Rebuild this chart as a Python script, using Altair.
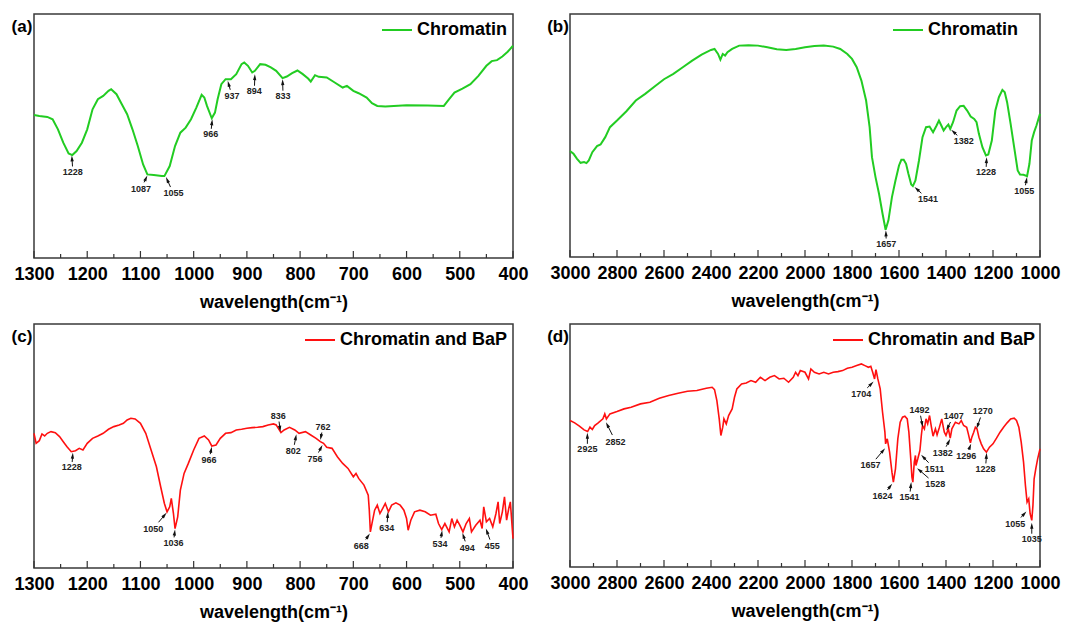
import math
import altair as alt
import pandas as pd

FONT = "Liberation Sans"
YMAX = 73.0

# ---------------- panel (a): Chromatin, 1300-400 ----------------
a_wn = [1300,1290,1275,1265,1255,1245,1235,1228,1220,1210,1200,1190,1180,1170,1160,1155,1145,1135,1125,1115,
        1105,1095,1087,1075,1060,1055,1045,1035,1025,1015,1005,995,985,980,975,966,960,955,948,940,
        930,920,910,905,898,890,885,875,865,855,845,833,825,815,805,795,785,780,772,765,
        750,735,720,712,700,690,675,665,655,640,600,560,530,520,510,495,480,465,450,440,
        430,420,410,400]
a_val = [42.8,42.5,42.2,41.5,38.5,34.5,31.3,30.8,32.0,34.5,38.5,44.5,47.5,48.5,50.0,50.5,49.0,46.0,43.0,38.5,
         33.5,28.0,25.0,24.8,24.5,24.5,27.5,33.5,37.5,39.0,41.5,45.0,48.8,48.0,45.5,41.8,43.5,47.5,52.0,53.5,
         53.5,55.0,58.0,58.5,57.5,55.5,56.0,58.0,57.8,57.0,56.0,53.8,54.3,55.3,56.1,55.0,53.7,52.8,54.7,54.2,
         54.0,52.5,51.0,51.5,50.0,49.3,48.0,46.3,45.5,45.3,45.7,45.6,45.5,47.5,49.5,50.7,52.0,54.5,57.5,58.9,
         59.2,60.3,61.7,63.5]
a_ann = ["1228", "1087", "1055", "966", "937", "894", "833"]
a_tip_x = [1229, 1087, 1052, 965, 936, 885, 833]
a_tip_y = [30.7, 24.7, 24.2, 41.5, 53.0, 55.0, 53.5]
a_lab_x = [1227, 1099, 1038, 968, 928, 886, 832]
a_lab_y = [25.8, 20.7, 19.3, 37.0, 48.5, 50.0, 48.5]

# ---------------- panel (b): Chromatin, 3000-1000 ----------------
b_wn = [3000,2985,2970,2955,2940,2930,2920,2905,2885,2870,2850,2830,2800,2760,2720,2680,2640,2600,2560,2520,
        2480,2440,2400,2385,2370,2360,2350,2340,2330,2310,2280,2240,2200,2160,2120,2080,2040,2000,1960,1920,
        1880,1850,1820,1800,1780,1760,1740,1725,1715,1700,1685,1670,1657,1645,1630,1615,1600,1590,1580,1570,
        1560,1548,1541,1530,1515,1500,1485,1470,1455,1440,1430,1420,1410,1398,1390,1382,1370,1355,1340,1325,
        1310,1295,1280,1270,1260,1245,1230,1220,1205,1190,1175,1160,1150,1140,1125,1110,1095,1085,1070,1055,
        1045,1035,1025,1015,1000]
b_val = [31.8,31.0,29.5,28.3,28.5,28.2,29.0,31.5,33.3,33.8,36.0,39.0,41.0,43.8,47.0,49.0,51.2,53.4,55.0,57.0,
         59.0,60.8,62.2,62.5,61.0,59.3,61.0,60.5,61.5,62.5,63.5,63.6,63.5,63.0,62.4,62.2,62.5,63.0,63.4,63.5,
         63.2,62.5,61.0,59.5,57.0,53.0,47.0,39.0,30.0,24.0,19.0,13.0,8.2,11.0,18.0,23.0,27.5,29.2,29.2,28.0,
         25.0,21.8,21.3,23.0,29.0,36.0,39.0,39.2,37.5,39.5,41.0,39.5,38.0,39.2,39.8,38.5,40.5,44.0,45.3,45.4,
         44.0,42.2,41.5,40.5,37.0,33.0,30.5,30.8,35.0,44.0,48.0,50.2,49.5,46.5,40.0,33.0,26.0,24.8,24.7,24.3,
         28.0,35.0,37.5,39.5,43.0]
b_ann = ["1657", "1541", "1382", "1228", "1055"]
b_tip_x = [1656, 1534, 1378, 1227, 1055]
b_tip_y = [8.0, 21.0, 38.2, 30.0, 24.0]
b_lab_x = [1654, 1477, 1324, 1230, 1067]
b_lab_y = [4.0, 17.4, 34.8, 25.5, 19.8]

# ---------------- panel (c): Chromatin and BaP, 1300-400 ----------------
c_wn = [1300,1296,1290,1285,1280,1275,1268,1260,1252,1245,1238,1230,1222,1215,1208,1200,1190,1180,1170,1160,
        1150,1140,1132,1125,1118,1110,1100,1090,1080,1070,1062,1055,1050,1045,1042,1038,1035,1030,1025,1018,
        1010,1000,990,980,972,966,958,950,940,930,920,910,900,890,880,870,860,850,845,836,
        830,820,810,802,790,780,770,762,756,750,740,730,720,710,700,695,690,680,672,670,
        668,665,660,655,650,645,640,634,628,620,612,605,600,597,592,585,575,565,555,545,
        540,534,528,520,515,510,505,500,494,488,482,478,470,462,458,455,450,444,438,432,
        428,425,420,416,412,408,405,400]
c_val = [40.3,37.3,38.1,40.1,39.5,40.3,40.8,40.5,39.3,37.8,36.3,34.8,35.1,35.8,35.3,37.3,38.8,39.5,40.3,41.5,
         42.3,42.8,43.3,44.3,44.8,44.6,43.3,40.3,35.3,30.3,24.3,19.3,16.8,18.3,20.8,16.3,11.8,15.3,23.3,28.3,
         31.3,35.3,38.8,39.5,38.3,36.5,36.8,38.8,40.3,40.5,41.3,41.5,41.8,42.0,42.1,42.3,42.8,43.1,42.8,40.5,
         41.3,42.1,41.3,40.3,40.8,39.8,38.8,37.8,37.3,36.1,35.8,33.3,31.3,29.8,27.3,28.3,26.8,24.8,21.8,17.3,
         10.8,13.3,17.3,18.8,16.3,17.8,19.3,16.8,18.8,19.5,18.8,17.3,14.8,11.3,14.3,16.8,17.3,16.8,15.8,16.1,
         13.3,11.5,13.3,10.8,14.8,12.3,14.3,12.8,10.8,13.3,14.8,10.8,12.8,14.3,11.8,18.3,13.8,14.8,12.3,16.3,
         19.8,13.3,16.8,21.3,14.3,17.8,19.8,8.8]
c_ann = ["1228", "1050", "1036", "966", "836", "802", "762", "756", "668", "634", "534", "494", "455"]
c_tip_x = [1227, 1051, 1035, 966, 837, 807, 762, 758, 669, 635, 533, 495, 451]
c_tip_y = [34.5, 16.5, 11.5, 36.3, 40.8, 40.0, 38.3, 36.8, 10.3, 16.8, 11.3, 10.5, 11.8]
c_lab_x = [1229, 1076, 1038, 971, 841, 813, 757, 772, 685, 637, 537, 486, 439]
c_lab_y = [30.1, 11.8, 7.5, 32.3, 45.5, 35.1, 42.3, 32.6, 6.6, 12.1, 7.3, 6.1, 6.6]

# ---------------- panel (d): Chromatin and BaP, 3000-1000 ----------------
d_wn = [3000,2980,2960,2940,2925,2915,2905,2895,2880,2860,2852,2845,2830,2800,2770,2740,2700,2660,2620,2580,
        2540,2500,2460,2420,2395,2385,2375,2365,2358,2350,2345,2335,2325,2310,2300,2290,2270,2250,2230,2210,
        2190,2170,2150,2130,2110,2090,2070,2050,2040,2030,2020,2000,1985,1975,1960,1940,1920,1900,1880,1860,
        1840,1820,1800,1780,1760,1745,1730,1720,1712,1704,1698,1690,1680,1670,1660,1657,1650,1640,1630,1624,
        1615,1605,1595,1585,1575,1565,1558,1550,1545,1541,1535,1530,1528,1520,1511,1505,1500,1492,1485,1478,
        1470,1462,1455,1445,1438,1428,1418,1410,1407,1400,1390,1382,1375,1360,1345,1335,1325,1312,1305,1296,
        1290,1282,1275,1268,1260,1250,1240,1228,1215,1200,1185,1170,1155,1140,1125,1110,1100,1090,1080,1070,
        1062,1055,1048,1042,1035,1030,1025,1018,1010,1000]
d_val = [44.0,43.3,42.3,41.2,40.7,42.0,41.3,42.5,43.3,44.5,46.0,44.5,46.0,46.7,47.5,48.0,49.0,49.5,50.7,51.5,
         52.2,52.8,53.0,53.7,54.0,53.3,50.0,44.5,39.5,42.0,44.5,43.0,45.5,47.5,51.0,53.5,55.0,55.3,56.0,55.5,
         57.0,56.0,57.0,57.5,56.5,56.7,55.5,57.0,58.5,57.5,59.0,58.5,56.5,59.5,58.5,58.0,58.5,58.0,58.5,58.7,
         59.0,59.7,60.0,60.5,61.0,60.5,60.0,60.3,58.5,56.5,59.3,56.5,53.5,46.5,40.5,37.0,38.5,34.5,28.5,25.5,
         29.5,38.5,43.5,45.0,45.3,44.5,40.5,32.5,27.0,25.5,31.5,33.5,30.5,32.5,35.0,39.5,42.5,41.5,44.5,43.0,
         45.5,42.0,39.3,41.5,39.7,42.0,44.5,41.5,40.5,39.5,41.5,38.7,41.5,43.5,43.0,44.0,42.5,42.0,40.0,37.3,
         39.0,40.5,42.0,41.5,39.0,37.0,35.5,34.5,36.0,37.0,38.7,40.5,42.0,43.3,44.5,44.7,44.0,42.0,37.5,31.5,
         24.5,19.5,20.5,16.0,14.0,18.5,26.5,29.5,32.5,35.5]
d_ann = ["2925", "2852", "1704", "1657", "1624", "1541", "1528", "1511", "1492", "1407", "1382",
         "1296", "1270", "1228", "1055", "1035"]
d_tip_x = [2926, 2847, 1708, 1659, 1629, 1548, 1523, 1506, 1499, 1399, 1382, 1293, 1270, 1227, 1058, 1035]
d_tip_y = [40.3, 43.5, 55.7, 35.7, 25.0, 25.5, 29.7, 33.7, 42.0, 41.0, 38.5, 37.0, 41.5, 34.3, 16.7, 13.3]
d_lab_x = [2926, 2806, 1761, 1721, 1670, 1555, 1446, 1449, 1513, 1367, 1414, 1314, 1244, 1232, 1105, 1035]
d_lab_y = [35.5, 37.7, 52.0, 30.5, 21.2, 21.0, 25.0, 29.5, 47.2, 45.5, 34.2, 33.3, 46.8, 29.5, 13.0, 8.5]

short_majors = [1300, 1200, 1100, 1000, 900, 800, 700, 600, 500, 400]
short_minors = [1250, 1150, 1050, 950, 850, 750, 650, 550, 450]
long_majors = [3000, 2800, 2600, 2400, 2200, 2000, 1800, 1600, 1400, 1200, 1000]
long_minors = [2900, 2700, 2500, 2300, 2100, 1900, 1700, 1500, 1300, 1100]

GREEN = "#22cc22"
RED = "#ff1010"
ARROW = "M0,-1L0.55,1L-0.55,1Z"


def arrow_frames(W, H, ann, tip_x, tip_y, lab_x, lab_y, xmin, xmax):
    sx = W / (xmax - xmin)
    sy = H / YMAX
    stems, heads = [], []
    for tx, ty, lx, ly in zip(tip_x, tip_y, lab_x, lab_y):
        dx = -(tx - lx) * sx
        dy = -(ty - ly) * sy
        L = math.hypot(dx, dy) or 1.0
        ux, uy = dx / L, dy / L

        def back(d):
            return lx - ux * d / sx, ly - uy * d / sy

        start = 5.0 + 5.0 * abs(ux)
        s0 = back(start)
        s1 = back(L - 4.0)
        hc = back(L - 3.0)
        ang = math.degrees(math.atan2(ux, -uy)) % 360
        stems.append({"wn": s0[0], "val": s0[1], "wn2": s1[0], "val2": s1[1]})
        heads.append({"wn": hc[0], "val": hc[1], "ang": ang})
    labels = pd.DataFrame({"wn": lab_x, "val": lab_y, "txt": ann})
    return pd.DataFrame(stems), pd.DataFrame(heads), labels


def panel(letter, W, H, legx, wn, val, name, color, sw, ann, tip_x, tip_y, lab_x, lab_y,
          xmin, xmax, majors, minors):
    xs = alt.Scale(domain=[xmin, xmax], reverse=True, nice=False, zero=False)
    ys = alt.Scale(domain=[0, YMAX], nice=False, zero=False)
    xaxis = alt.Axis(values=majors, format="d", title="wavelength(cm⁻¹)", ticks=False,
                     domain=False, grid=False, labelFont=FONT, labelFontSize=18,
                     labelFontWeight="bold", labelColor="black", labelPadding=7,
                     labelFlush=False, labelOverlap=False, titleFont=FONT,
                     titleFontSize=18, titleFontWeight="bold", titleColor="black",
                     titlePadding=10)
    X = lambda f: alt.X(f, scale=xs, axis=xaxis)
    Y = lambda f: alt.Y(f, scale=ys, axis=None)

    df = pd.DataFrame({"wn": wn, "val": val, "series": name})
    line = alt.Chart(df).mark_line(strokeWidth=sw).encode(
        x=X("wn:Q"), y=Y("val:Q"),
        color=alt.Color("series:N", scale=alt.Scale(domain=[name], range=[color]),
                        legend=alt.Legend(title=None, orient="none", legendX=legx, legendY=0,
                                          padding=0, labelFont=FONT, labelFontSize=18,
                                          labelFontWeight="bold", labelColor="black",
                                          symbolType="stroke", symbolSize=900,
                                          symbolStrokeWidth=2, labelOffset=4,
                                          labelLimit=400)),
    )
    maj = alt.Chart(pd.DataFrame({"wn": majors})).mark_rule(color="#333", strokeWidth=1.2).encode(
        x=X("wn:Q"), y=alt.value(H), y2=alt.value(H - 7))
    mnr = alt.Chart(pd.DataFrame({"wn": minors})).mark_rule(color="#333", strokeWidth=1.2).encode(
        x=X("wn:Q"), y=alt.value(H), y2=alt.value(H - 4))

    stems, heads, labels = arrow_frames(W, H, ann, tip_x, tip_y, lab_x, lab_y, xmin, xmax)
    stem = alt.Chart(stems).mark_rule(color="#111", strokeWidth=1).encode(
        x=X("wn:Q"), y=Y("val:Q"), x2="wn2:Q", y2="val2:Q")
    head = alt.Chart(heads).mark_point(shape=ARROW, filled=True, size=36, color="#111",
                                       opacity=1, strokeWidth=0).encode(
        x=X("wn:Q"), y=Y("val:Q"), angle=alt.Angle("ang:Q", scale=None))
    text = alt.Chart(labels).mark_text(font=FONT, fontSize=9, fontWeight="bold",
                                       color="#222", baseline="middle", align="center").encode(
        x=X("wn:Q"), y=Y("val:Q"), text="txt:N")
    tag = alt.Chart(pd.DataFrame({"t": [letter]})).mark_text(
        font=FONT, fontSize=17, fontWeight="bold", color="black",
        align="center", baseline="middle").encode(
        x=alt.value(-12), y=alt.value(13), text="t:N")

    return alt.layer(line, maj, mnr, stem, head, text, tag).properties(width=W, height=H)


pa = panel("(a)", 479, 244, 347, a_wn, a_val, "Chromatin", GREEN, 2,
           a_ann, a_tip_x, a_tip_y, a_lab_x, a_lab_y, 400, 1300, short_majors, short_minors)
pb = panel("(b)", 470, 243, 322, b_wn, b_val, "Chromatin", GREEN, 2,
           b_ann, b_tip_x, b_tip_y, b_lab_x, b_lab_y, 1000, 3000, long_majors, long_minors)
pc = panel("(c)", 479, 244, 270, c_wn, c_val, "Chromatin and BaP", RED, 1.6,
           c_ann, c_tip_x, c_tip_y, c_lab_x, c_lab_y, 400, 1300, short_majors, short_minors)
pd_ = panel("(d)", 470, 243, 262, d_wn, d_val, "Chromatin and BaP", RED, 1.6,
            d_ann, d_tip_x, d_tip_y, d_lab_x, d_lab_y, 1000, 3000, long_majors, long_minors)

res = dict(x="independent", y="independent", color="independent")
top = alt.hconcat(pa, pb, spacing=17).resolve_scale(**res).resolve_legend(color="independent")
bottom = alt.hconcat(pc, pd_, spacing=17).resolve_scale(**res).resolve_legend(color="independent")
chart = (
    alt.vconcat(top, bottom, spacing=11)
    .resolve_scale(**res)
    .resolve_legend(color="independent")
    .configure_view(stroke="#3a3a3a", strokeWidth=1.5)
    .properties(padding={"left": 2, "top": 5, "right": 2, "bottom": 0}, background="white")
)

chart.save("out.html", embed_options={"renderer": "svg", "actions": False})
